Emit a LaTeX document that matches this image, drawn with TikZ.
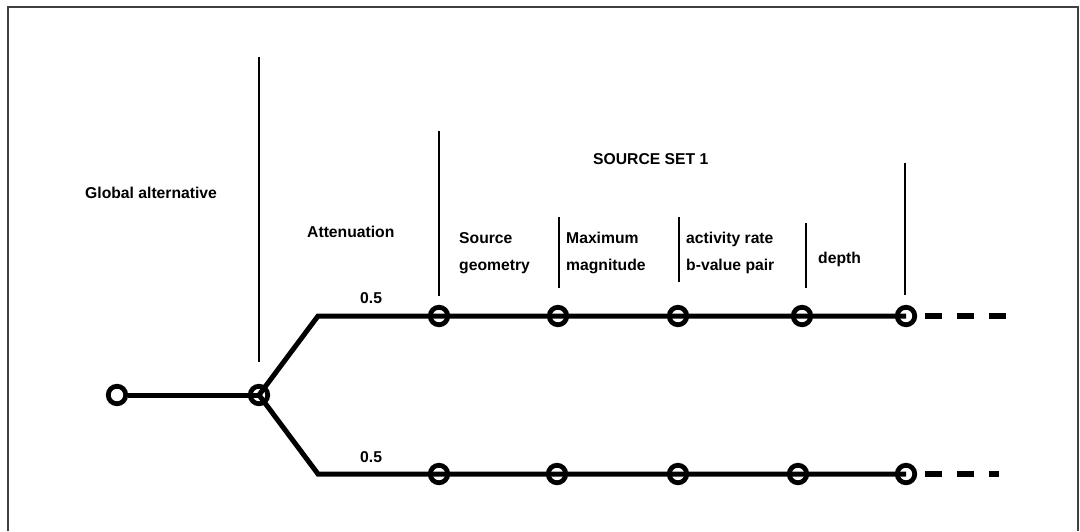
\documentclass[tikz,border=0pt]{standalone}
\usepackage{fontspec}
\setmainfont{Liberation Sans}
\begin{document}
\begin{tikzpicture}[x=1pt,y=-1pt,
  dot/.style={circle,draw,line width=4.8pt,minimum size=17.5pt,inner sep=0pt},
  mainline/.style={line width=5pt,line join=miter},
  sepline/.style={line width=1.5pt},
  dashline/.style={line width=6pt,dash pattern=on 17pt off 15pt},
  lbl/.style={font=\bfseries\fontsize{15.7}{18}\selectfont,inner sep=0pt,anchor=base west},
  frame/.style={line width=1.2pt,draw=black!75}]
\useasboundingbox (0,0) rectangle (1080,531);
\draw[frame] (8,531) -- (8,7) -- (1078,7) -- (1078,531);

% separators
\draw[sepline] (259,57) -- (259,362);
\draw[sepline] (439,131) -- (439,296);
\draw[sepline] (559,217) -- (559,288);
\draw[sepline] (679,217) -- (679,282);
\draw[sepline] (806,223) -- (806,288);
\draw[sepline] (905,163) -- (905,295);

% nodes
\node[dot] (r) at (117,395) {};
\node[dot] (b) at (259,395) {};
\coordinate (cu) at (318,316);
\coordinate (cl) at (318,474);
\node[dot] (u1) at (439,316) {};
\node[dot] (u2) at (558,316) {};
\node[dot] (u3) at (678,316) {};
\node[dot] (u4) at (802,316) {};
\node[dot] (u5) at (906,316) {};
\node[dot] (l1) at (439,474) {};
\node[dot] (l2) at (557,474) {};
\node[dot] (l3) at (678,474) {};
\node[dot] (l4) at (798,474) {};
\node[dot] (l5) at (906,474) {};
\coordinate (ue) at (1006,316);
\coordinate (le) at (999,474);
\coordinate (us) at (925,316);
\coordinate (ls) at (925,474);

% connectors
\draw[mainline] (r.east) -- (b.center);
\draw[mainline] (b.center) -- (cu) -- (u1.center) -- (u2.center) -- (u3.center) -- (u4.center) -- (u5.center);
\draw[mainline] (b.center) -- (cl) -- (l1.center) -- (l2.center) -- (l3.center) -- (l4.center) -- (l5.center);
\draw[dashline] (us) -- (ue);
\draw[dashline] (ls) -- (le);

% labels
\node[lbl] (tglob) at (85,198) {Global alternative};
\node[lbl] (tatt) at (307,237) {Attenuation};
\node[lbl] (tss) at (593,164) {SOURCE SET 1};
\node[lbl] (tp1) at (360,303) {0.5};
\node[lbl] (tp2) at (360,462) {0.5};
\node[lbl] (tsg1) at (459,243) {Source};
\node[lbl] (tsg2) at (459,270) {geometry};
\node[lbl] (tmm1) at (566,243) {Maximum};
\node[lbl] (tmm2) at (566,270) {magnitude};
\node[lbl] (tar1) at (686,243) {activity rate};
\node[lbl] (tar2) at (686,270) {b-value pair};
\node[lbl] (tdep) at (818,263) {depth};
\end{tikzpicture}
\end{document}
